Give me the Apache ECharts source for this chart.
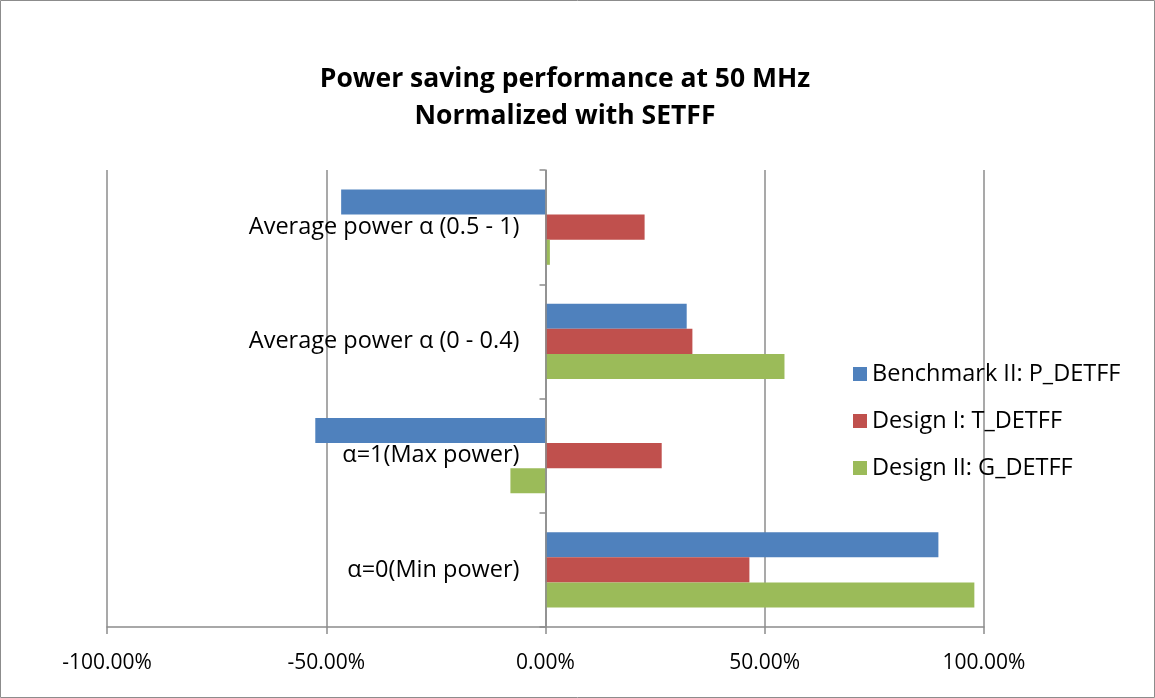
<!DOCTYPE html>
<html>
<head>
<meta charset="utf-8">
<script src="https://cdn.jsdelivr.net/npm/echarts@6/dist/echarts.min.js"></script>
<style>
  html, body { margin: 0; padding: 0; background: #fff; }
  #main { width: 1155px; height: 698px; }
</style>
</head>
<body>
<div id="main"></div>
<script>
// categories listed top to bottom (y axis is inverted)
var categories = ['Average power α (0.5 - 1)', 'Average power α (0 - 0.4)', 'α=1(Max power)', 'α=0(Min power)'];
var seriesNames = ['Benchmark II: P_DETFF', 'Design I: T_DETFF', 'Design II: G_DETFF'];
var benchmark = [-46.6, 32.2, -52.5, 89.6];
var design1 = [22.6, 33.5, 26.5, 46.5];
var design2 = [1.0, 54.5, -8.0, 97.8];
var xTicks = [-100, -50, 0, 50, 100];
var colors = ['#4F81BD', '#C0504D', '#9BBB59'];

var font = 'Open Sans';
var gridLeft = 107, gridRight = 171;
var myChart = echarts.init(document.getElementById('main'));

// y axis sits on the 0 line, labels follow it
var zeroShift = (1155 - gridLeft - gridRight) / 2;

var option = {
  animation: false,
  title: {
    text: 'Power saving performance at 50 MHz\nNormalized with SETFF',
    left: 560,
    textAlign: 'center',
    top: 56,
    textStyle: { fontFamily: font, fontWeight: 'bold', fontSize: 26.5, color: '#000', lineHeight: 37 }
  },
  legend: {
    orient: 'vertical',
    left: 848,
    top: 357,
    itemWidth: 14,
    itemHeight: 14,
    itemGap: 23,
    icon: 'rect',
    data: seriesNames,
    textStyle: { fontFamily: font, fontSize: 23.5, color: '#000' }
  },
  grid: { left: gridLeft, right: gridRight, top: 170, bottom: 71, outerBoundsMode: 'none' },
  xAxis: {
    type: 'value',
    min: xTicks[0],
    max: xTicks[xTicks.length - 1],
    interval: 50,
    axisLine: { show: true, lineStyle: { color: '#8c8c8c', width: 1.5 } },
    axisTick: { show: true, length: 7, lineStyle: { color: '#8c8c8c', width: 1.5 } },
    splitLine: { show: true, lineStyle: { color: '#8c8c8c', width: 1.5 } },
    axisLabel: {
      margin: 26,
      fontFamily: font, fontSize: 21, color: '#000',
      formatter: function (v) { return v.toFixed(2) + '%'; }
    }
  },
  yAxis: {
    type: 'category',
    inverse: true,
    data: categories,
    offset: -zeroShift,
    axisLine: { show: true, onZero: false, lineStyle: { color: '#8c8c8c', width: 1.5 } },
    axisTick: { show: true, length: 6, lineStyle: { color: '#8c8c8c', width: 1.5 } },
    axisLabel: { margin: 26, fontFamily: font, fontSize: 23.5, color: '#000' },
    z: 10
  },
  graphic: [{
    type: 'rect',
    shape: { x: 0.5, y: 0.5, width: 1154, height: 697 },
    style: { fill: 'none', stroke: '#8c8c8c', lineWidth: 1 },
    silent: true
  }],
  series: [
    { name: seriesNames[0], type: 'bar', data: benchmark, itemStyle: { color: colors[0] }, barGap: '0%', barCategoryGap: '34%' },
    { name: seriesNames[1], type: 'bar', data: design1, itemStyle: { color: colors[1] }, barGap: '0%', barCategoryGap: '34%' },
    { name: seriesNames[2], type: 'bar', data: design2, itemStyle: { color: colors[2] }, barGap: '0%', barCategoryGap: '34%' }
  ]
};

myChart.setOption(option);
</script>
</body>
</html>
